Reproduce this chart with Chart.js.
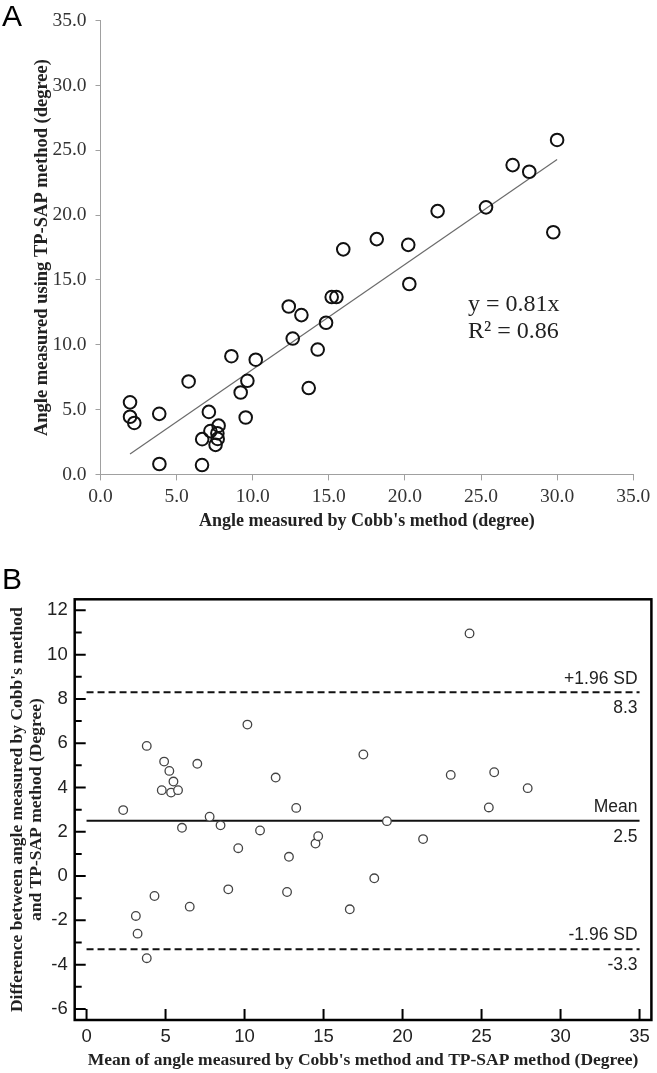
<!DOCTYPE html>
<html>
<head>
<meta charset="utf-8">
<script src="https://cdn.jsdelivr.net/npm/chart.js@4.4.1/dist/chart.umd.min.js"></script>
<style>
  body { margin: 0; background: #fff; width: 657px; height: 1073px; position: relative; overflow: hidden; }
  canvas { position: absolute; left: 0; }
  #chartA { top: 0; }
  #chartB { top: 545px; }
  .panel { position: absolute; font-family: "Liberation Sans", Arial, sans-serif; font-size: 30px; line-height: 1; color: #000; }
</style>
</head>
<body>
<canvas id="chartA" width="657" height="545"></canvas>
<canvas id="chartB" width="657" height="528"></canvas>
<div class="panel" style="left:2px;top:1px">A</div>
<div class="panel" style="left:2px;top:564px">B</div>
<script>
// Panel A: Cobb's angle vs TP-SAP angle (degree)
const cobbAngle  = [1.94, 1.94, 2.22, 3.86, 3.87, 5.79, 6.67, 6.68, 7.12, 7.22, 7.76, 7.68, 7.70, 7.56, 8.60, 9.21, 9.65, 9.54, 10.20,
                    12.37, 12.63, 13.20, 13.68, 14.27, 14.82, 15.19, 15.50, 15.95, 18.15, 20.22, 20.29, 22.15, 25.33, 27.08, 28.17, 29.75, 30.00];
const tpsapAngle = [5.56, 4.45, 3.97, 4.67, 0.80, 7.17, 0.72, 2.72, 4.82, 3.34, 3.76, 3.18, 2.74, 2.28, 9.12, 6.32, 7.22, 4.39, 8.85,
                    12.95, 10.48, 12.29, 6.66, 9.63, 11.70, 13.68, 13.68, 17.36, 18.15, 17.71, 14.69, 20.31, 20.60, 23.86, 23.35, 18.68, 25.80];
const trendX = [1.94, 30.0];
const trendY = [1.57, 24.3];
const fitText = ["y = 0.81x", "R\u00b2 = 0.86"];
const aTicks = [0, 5, 10, 15, 20, 25, 30, 35];

// Panel B: Bland-Altman
const meanAngle = [2.32, 3.12, 3.23, 3.81, 3.81, 4.30, 4.76, 4.91, 5.24, 5.35, 5.50, 5.79, 6.04, 6.53, 7.01, 7.79, 8.48, 8.97, 9.60,
                   10.18, 10.98, 11.97, 12.69, 12.81, 13.27, 14.49, 14.66, 16.66, 17.52, 18.21, 19.01, 21.30, 23.05, 24.24, 25.46, 25.80, 27.92];
const diffAngle = [2.98, -1.80, -2.60, -3.71, 5.88, -0.90, 3.88, 5.17, 4.75, 3.77, 4.27, 3.88, 2.18, -1.38, 5.07, 2.68, 2.29, -0.60, 1.26,
                   6.84, 2.06, 4.45, -0.72, 0.87, 3.08, 1.47, 1.80, -1.50, 5.49, -0.10, 2.48, 1.67, 4.57, 10.96, 3.10, 4.69, 3.97];
const limitValues = [8.3, 2.5, -3.3];
const limitNames = ["+1.96 SD", "Mean", "-1.96 SD"];
const limitLabels = ["8.3", "2.5", "-3.3"];
const limitSpan = [0, 35];
const bTicksX = [0, 5, 10, 15, 20, 25, 30, 35];
const bTicksY = [-6, -4, -2, 0, 2, 4, 6, 8, 10, 12];
const bMinorY = [-5, -3, -1, 1, 3, 5, 7, 9, 11];

const serif = '"Liberation Serif", "Times New Roman", serif';
const sans = '"Liberation Sans", Arial, sans-serif';

// equation text on panel A
const fitPlugin = {
  id: 'fitText',
  afterDraw(chart) {
    const ctx = chart.ctx;
    const x = chart.scales.x.getPixelForValue(24.15);
    const y = chart.scales.y.getPixelForValue(13.1);
    ctx.save();
    ctx.font = '24px ' + serif;
    ctx.fillStyle = '#222';
    ctx.textBaseline = 'middle';
    fitText.forEach((t, i) => ctx.fillText(t, x, y + i * 27));
    ctx.restore();
  }
};

new Chart(document.getElementById('chartA'), {
  type: 'scatter',
  data: {
    datasets: [{
      data: cobbAngle.map((v, i) => ({ x: v, y: tpsapAngle[i] })),
      pointStyle: 'circle',
      pointRadius: 6.3,
      borderWidth: 2,
      borderColor: '#111',
      backgroundColor: 'rgba(255,255,255,0)',
      order: 0
    }, {
      data: trendX.map((v, i) => ({ x: v, y: trendY[i] })),
      showLine: true,
      pointRadius: 0,
      borderColor: '#6b6b6b',
      borderWidth: 1.2,
      order: 1
    }]
  },
  options: {
    responsive: false,
    animation: false,
    layout: { padding: { top: 16, right: 23.8, left: 0, bottom: 0 } },
    plugins: { legend: { display: false }, tooltip: { enabled: false } },
    scales: {
      x: {
        type: 'linear', min: 0, max: 35,
        afterBuildTicks: s => { s.ticks = aTicks.map(v => ({ value: v })); },
        afterFit: s => { s.height = 70.6; },
        ticks: { callback: v => v.toFixed(1), font: { family: serif, size: 19.5 }, color: '#333', padding: 5, maxRotation: 0 },
        grid: { drawOnChartArea: false, tickLength: 6, color: '#a0a0a0' },
        border: { color: '#a0a0a0', width: 1 },
        title: { display: true, text: "Angle measured by Cobb's method (degree)", color: '#222',
                 font: { family: serif, size: 18, weight: 'bold' }, padding: { top: 0, bottom: 13 } }
      },
      y: {
        type: 'linear', min: 0, max: 35,
        afterBuildTicks: s => { s.ticks = aTicks.map(v => ({ value: v })); },
        afterFit: s => { s.width = 100.5; },
        ticks: { callback: v => v.toFixed(1), font: { family: serif, size: 19.5 }, color: '#333', padding: 9 },
        grid: { drawOnChartArea: false, tickLength: 5, color: '#a0a0a0' },
        border: { color: '#a0a0a0', width: 1 },
        title: { display: true, text: 'Angle measured using TP-SAP method (degree)', color: '#222',
                 font: { family: serif, size: 18.5, weight: 'bold' }, padding: { top: 31, bottom: 0 } }
      }
    }
  },
  plugins: [fitPlugin]
});

// box, inner ticks and limit labels on panel B
const boxPlugin = {
  id: 'box',
  afterDraw(chart) {
    const ctx = chart.ctx;
    const a = chart.chartArea;
    const sx = chart.scales.x, sy = chart.scales.y;
    ctx.save();
    ctx.strokeStyle = '#000';
    ctx.lineWidth = 2;
    ctx.beginPath();
    bTicksY.forEach(v => { const y = sy.getPixelForValue(v); ctx.moveTo(a.left, y); ctx.lineTo(a.left + 11, y); });
    bMinorY.forEach(v => { const y = sy.getPixelForValue(v); ctx.moveTo(a.left, y); ctx.lineTo(a.left + 7, y); });
    bTicksX.forEach(v => { const x = sx.getPixelForValue(v); ctx.moveTo(x, a.bottom); ctx.lineTo(x, a.bottom - 11); });
    ctx.stroke();
    ctx.lineWidth = 2.5;
    ctx.strokeRect(a.left, a.top, a.right - a.left, a.bottom - a.top);

    ctx.font = '17.5px ' + sans;
    ctx.fillStyle = '#222';
    ctx.textAlign = 'right';
    ctx.textBaseline = 'middle';
    const xr = sx.getPixelForValue(limitSpan[1]) - 2;
    limitValues.forEach((v, i) => {
      const y = sy.getPixelForValue(v);
      ctx.fillText(limitNames[i], xr, y - 13.5);
      ctx.fillText(limitLabels[i], xr, y + 16);
    });
    ctx.restore();
  }
};

const limitSets = limitValues.map((v, i) => ({
  data: limitSpan.map(x => ({ x: x, y: v })),
  showLine: true,
  pointRadius: 0,
  borderColor: '#111',
  borderWidth: 2,
  borderDash: i === 1 ? [] : [7, 4],
  order: 1
}));

new Chart(document.getElementById('chartB'), {
  type: 'scatter',
  data: {
    datasets: [{
      data: meanAngle.map((v, i) => ({ x: v, y: diffAngle[i] })),
      pointStyle: 'circle',
      pointRadius: 4.3,
      borderWidth: 1.3,
      borderColor: '#444',
      backgroundColor: '#fff',
      order: 0
    }].concat(limitSets)
  },
  options: {
    responsive: false,
    animation: false,
    layout: { padding: { top: 54.3, right: 3.7, left: 0, bottom: 0 } },
    plugins: { legend: { display: false }, tooltip: { enabled: false } },
    scales: {
      x: {
        type: 'linear', min: -0.75, max: 35.75,
        afterBuildTicks: s => { s.ticks = bTicksX.map(v => ({ value: v })); },
        afterFit: s => { s.height = 53; },
        ticks: { font: { family: sans, size: 18.5 }, color: '#222', padding: 6, maxRotation: 0 },
        grid: { display: false, drawTicks: false },
        border: { display: false },
        title: { display: true, text: "Mean of angle measured by Cobb's method and TP-SAP method (Degree)", color: '#222',
                 font: { family: serif, size: 17.5, weight: 'bold' }, padding: { top: 0, bottom: 2 } }
      },
      y: {
        type: 'linear', min: -6.5, max: 12.5,
        afterBuildTicks: s => { s.ticks = bTicksY.map(v => ({ value: v })); },
        afterFit: s => { s.width = 74.7; },
        ticks: { font: { family: sans, size: 18.5 }, color: '#222', padding: 7 },
        grid: { display: false, drawTicks: false },
        border: { display: false },
        title: { display: true, text: ["Difference between angle measured by Cobb's method", 'and TP-SAP method (Degree)'], color: '#222',
                 font: { family: serif, size: 17.5, weight: 'bold', lineHeight: 1.1 }, padding: { top: 8, bottom: 0 } }
      }
    }
  },
  plugins: [boxPlugin]
});
</script>
</body>
</html>
